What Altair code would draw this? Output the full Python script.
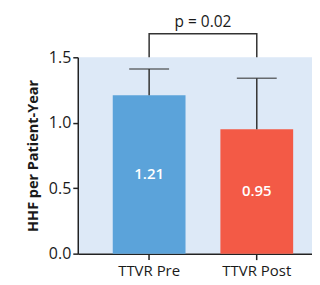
import altair as alt
import pandas as pd

groups = ["TTVR Pre", "TTVR Post"]
values = [1.21, 0.95]
upper = [1.41, 1.34]
value_labels = ["1.21", "0.95"]
colors = ["#5ba3da", "#f35a46"]
y_ticks = [0.0, 0.5, 1.0, 1.5]

bracket_x = ["TTVR Pre", "TTVR Pre", "TTVR Post", "TTVR Post"]
bracket_y = [1.5, 1.68, 1.68, 1.5]
bracket_order = [0, 1, 2, 3]
p_text = "p = 0.02"
p_y = 1.77

FONT = "Open Sans"

df = pd.DataFrame({
    "group": groups,
    "value": values,
    "upper": upper,
    "label": value_labels,
    "half": [v / 2 for v in values],
})
br = pd.DataFrame({"g": bracket_x, "y": bracket_y, "o": bracket_order})
pdf = pd.DataFrame({"g": [groups[0]], "y": [p_y], "t": [p_text]})

xscale = alt.Scale(domain=groups, paddingInner=0.324, paddingOuter=0.25, align=0.65)
yscale = alt.Scale(domain=[0, 1.5], nice=False, zero=True)

xenc = alt.X("group:N", scale=xscale, sort=groups, title=None,
             axis=alt.Axis(labelAngle=0, labelFont=FONT, labelFontSize=15, labelFontWeight=500,
                           labelColor="#1a1a1a", domainColor="#222", domainWidth=1.5,
                           tickColor="#222", tickWidth=1.5, tickSize=6, labelPadding=4))
yenc = alt.Y("value:Q", scale=yscale, title="HHF per Patient-Year",
             axis=alt.Axis(values=y_ticks, format=".1f", grid=False,
                           labelFont=FONT, labelFontSize=16, labelFontWeight=500,
                           labelColor="#1a1a1a",
                           domainColor="#222", domainWidth=1.5,
                           tickColor="#222", tickWidth=1.5, tickSize=5, labelPadding=2,
                           titleFont=FONT, titleFontSize=14.5, titleFontWeight="bold",
                           titleColor="#1a1a1a", titlePadding=8))

bars = alt.Chart(df).mark_bar().encode(
    x=xenc, y=yenc,
    color=alt.Color("group:N", scale=alt.Scale(domain=groups, range=colors), legend=None),
)

err = alt.Chart(df).mark_rule(color="#333", strokeWidth=1.5).encode(
    x=alt.X("group:N", scale=xscale, sort=groups),
    y=alt.Y("value:Q", scale=yscale),
    y2="upper:Q",
)
caps = alt.Chart(df).mark_tick(color="#333", thickness=1.5, size=40).encode(
    x=alt.X("group:N", scale=xscale, sort=groups),
    y=alt.Y("upper:Q", scale=yscale),
)
txt = alt.Chart(df).mark_text(color="white", font=FONT, fontSize=15, fontWeight=600).encode(
    x=alt.X("group:N", scale=xscale, sort=groups),
    y=alt.Y("half:Q", scale=yscale),
    text="label:N",
)
bracket = alt.Chart(br).mark_line(color="#333", strokeWidth=1.5).encode(
    x=alt.X("g:N", scale=xscale, sort=groups),
    y=alt.Y("y:Q", scale=yscale),
    order="o:Q",
)
ptxt = alt.Chart(pdf).mark_text(font=FONT, fontSize=15.5, fontWeight=500, color="#1a1a1a", dx=54).encode(
    x=alt.X("g:N", scale=xscale, sort=groups),
    y=alt.Y("y:Q", scale=yscale),
    text="t:N",
)

chart = alt.layer(bars, err, caps, txt, bracket, ptxt).properties(
    width=235, height=197,
    autosize=alt.AutoSizeParams(type="none"),
    padding={"left": 70, "top": 49, "right": 0, "bottom": 28},
    background="white",
).configure_view(fill="#dde9f7", stroke=None)

chart.save("out.html", embed_options={"renderer": "svg", "actions": False})
